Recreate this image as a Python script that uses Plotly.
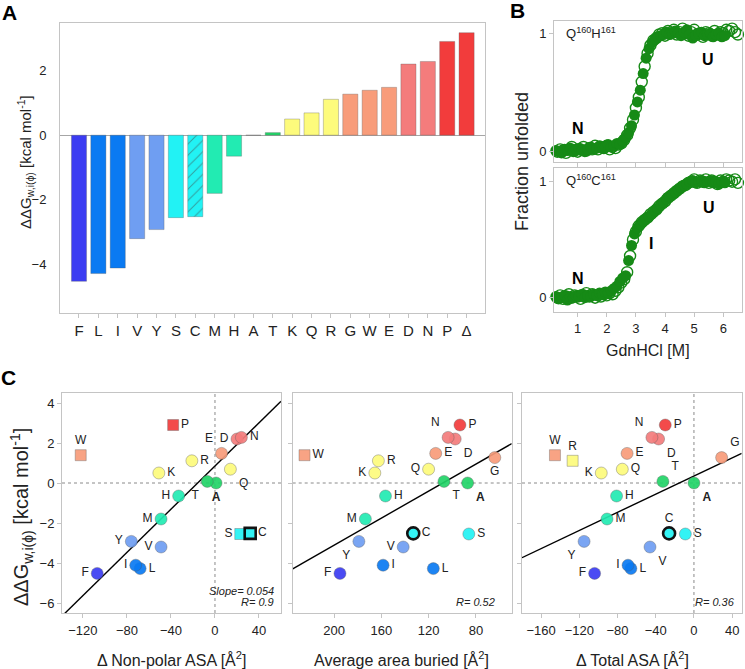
import plotly.graph_objects as go

FONT = "Liberation Sans, Arial, sans-serif"
W, H = 745, 669

# ---------------- data: panel A ----------------
residues = ["F", "L", "I", "V", "Y", "S", "C", "M", "H", "A", "T",
            "K", "Q", "R", "G", "W", "E", "D", "N", "P", "Δ"]
ddg = [-4.52, -4.28, -4.11, -3.20, -2.92, -2.55, -2.52, -1.80, -0.65, 0.0, 0.08,
       0.50, 0.69, 1.11, 1.27, 1.39, 1.48, 2.20, 2.28, 2.90, 3.17]
hatched = ["C"]

# ---------------- data: panel C ----------------
nonpolar_res = ["F", "L", "I", "V", "Y", "S", "C", "M", "H", "A", "T",
                "K", "Q", "R", "W", "E", "D", "N", "P"]
nonpolar_asa = [-107, -68, -72, -49, -76, 23, 32, -49, -33, 1, -7,
                -51, 14, -21, -122, 6, 20, 24, -38]
nonpolar_squares = ["P", "W", "S", "C"]

buried_res = ["F", "L", "I", "V", "Y", "S", "C", "M", "H", "A", "T",
              "K", "Q", "R", "G", "W", "E", "D", "N", "P"]
buried_area = [195, 116, 158.5, 141.5, 179, 86, 133, 173.5, 156.5, 87, 107,
               165.5, 120, 162.5, 64, 225, 114, 97.5, 103.5, 93.5]
buried_squares = ["W"]

total_res = ["F", "L", "I", "V", "Y", "S", "C", "M", "H", "A", "T",
             "K", "Q", "R", "G", "W", "E", "D", "N", "P"]
total_asa = [-104, -66, -69, -46, -115, -9, -26, -91, -81, 0, -32.5,
             -97, -75, -127, 29, -145.5, -70, -37, -44, -30]
total_squares = ["W", "R"]

fit_nonpolar = (0.054, 0.85)     # slope, intercept
fit_buried = (-0.0338, 3.65)
fit_total = (0.0227, 0.35)
stat_texts = [["Slope= 0.054", "R= 0.9"], ["R= 0.52"], ["R= 0.36"]]

# ---------------- data: panel B ----------------
qh_filled_x = [0.25, 0.35, 0.45, 0.55, 0.65, 0.75, 0.85, 0.95, 1.05, 1.15, 1.25, 1.35, 1.45, 1.55, 1.65,
               1.75, 1.85, 1.95, 2.05, 2.15, 2.25, 2.35, 2.45, 2.55, 2.65, 2.75, 2.85, 2.95, 3.05, 3.15,
               3.25, 3.35, 3.45, 3.55, 3.65, 3.75, 3.85, 3.95, 4.05, 4.15, 4.25, 4.35, 4.45, 4.55, 4.65,
               4.75, 4.85, 4.95, 5.05, 5.15, 5.25, 5.35, 5.45, 5.55, 5.65, 5.75, 5.85, 5.95, 6.05]
qh_filled_y = [0.01, 0.00, -0.01, 0.02, 0.01, 0.03, 0.00, 0.02, 0.03, 0.01, 0.00, 0.02, 0.04, 0.02, 0.03,
               0.05, 0.03, 0.04, 0.06, 0.04, 0.05, 0.07, 0.06, 0.09, 0.12, 0.16, 0.22, 0.31, 0.42, 0.52,
               0.66, 0.79, 0.87, 0.92, 0.95, 0.97, 0.98, 0.99, 1.01, 0.99, 1.00, 1.02, 1.00, 0.98, 1.01,
               1.03, 0.99, 0.96, 0.98, 1.00, 1.01, 0.98, 0.99, 1.00, 0.97, 0.99, 1.00, 0.97, 0.98]
qh_open_x = [0.3, 0.4, 0.5, 0.6, 0.7, 0.8, 0.9, 1.0, 1.1, 1.2, 1.3, 1.4, 1.5, 1.6, 1.7, 1.8, 1.9, 2.0,
             2.1, 2.2, 2.3, 2.4, 2.5, 2.6, 2.7, 2.8, 2.9, 3.0, 3.1, 3.2, 3.3, 3.4, 3.5, 3.6, 3.7, 3.8,
             3.9, 4.0, 4.1, 4.2, 4.3, 4.4, 4.5, 4.6, 4.7, 4.8, 4.9, 5.0, 5.1, 5.2, 5.3, 5.4, 5.5, 5.6,
             5.7, 5.8, 5.9, 6.0, 6.1, 6.2, 6.3, 6.4, 6.5]
qh_open_y = [0.00, 0.02, 0.01, -0.01, 0.02, 0.04, 0.01, 0.00, 0.02, 0.04,
             0.01, 0.03, 0.02, 0.05, 0.02, 0.04, 0.03, 0.05, 0.02, 0.04,
             0.03, 0.06, 0.07, 0.10, 0.14, 0.20, 0.27, 0.37, 0.46, 0.59,
             0.72, 0.83, 0.90, 0.94, 0.96, 0.99, 1.00, 0.98, 1.02, 1.00,
             1.03, 0.99, 1.01, 1.04, 1.00, 0.98, 1.01, 1.03, 0.99, 1.00,
             0.97, 1.01, 1.00, 0.98, 1.02, 0.99, 1.01, 1.00, 1.03, 1.02,
             1.04, 1.01, 0.99]
qc_filled_x = qh_filled_x
qc_filled_y = [0.01, -0.01, 0.00, 0.02, -0.02, 0.01, 0.00, 0.02, 0.01, 0.03,
               0.00, 0.02, 0.01, 0.03, 0.02, 0.04, 0.03, 0.05, 0.04, 0.06,
               0.08, 0.10, 0.14, 0.17, 0.19, 0.32, 0.45, 0.55, 0.60, 0.63,
               0.66, 0.68, 0.70, 0.72, 0.75, 0.77, 0.80, 0.82, 0.85, 0.87,
               0.89, 0.91, 0.93, 0.95, 0.97, 0.98, 1.00, 1.01, 0.99, 1.00,
               1.01, 0.99, 1.00, 1.01, 0.99, 1.00, 0.98, 1.00, 0.99]
qc_open_x = qh_open_x
qc_open_y = [0.00, 0.02, -0.01, 0.01, 0.03, 0.00, 0.02, 0.01, -0.01, 0.02,
             0.04, 0.01, 0.03, 0.00, 0.02, 0.01, 0.03, 0.02, 0.04, 0.03,
             0.06, 0.09, 0.13, 0.16, 0.22, 0.36, 0.50, 0.57, 0.62, 0.65,
             0.67, 0.69, 0.72, 0.74, 0.76, 0.79, 0.81, 0.83, 0.86, 0.88,
             0.90, 0.92, 0.94, 0.96, 0.97, 0.99, 1.00, 1.02, 0.99, 1.01,
             1.00, 1.02, 0.99, 1.01, 1.00, 0.98, 1.01, 1.00, 1.02, 1.01,
             1.00, 1.02, 0.99]

# ---------------- style ----------------
res_color = {
    "F": "#3b3cf2", "L": "#0a7af2", "I": "#0a7af2", "V": "#6f9ef2", "Y": "#6f9ef2",
    "S": "#22f2f4", "C": "#22f2f4", "M": "#22ebb2", "H": "#22ebb2", "A": "#22d468",
    "T": "#22d468", "K": "#fdfb7c", "Q": "#fdfb7c", "R": "#fdfb7c", "G": "#f89c7a",
    "W": "#f89c7a", "E": "#f89c7a", "D": "#f47c7c", "N": "#f47c7c", "P": "#f23c3c",
    "Δ": "#f23c3c",
}
GREEN = "#168a16"
FRAME = "#c4c4c4"
TXT = "#222222"
ddg_of = dict(zip(residues, ddg))


def px_x(p):
    return p / W


def px_y(p):
    return 1 - p / H


fig = go.Figure()

# ---- panel A bars ----
fig.add_trace(go.Bar(
    x=residues, y=ddg, xaxis="x", yaxis="y", width=0.78,
    marker=dict(
        color=[res_color[r] for r in residues],
        line=dict(color="rgba(90,90,90,0.45)", width=0.7),
        pattern=dict(shape=["/" if r in hatched else "" for r in residues],
                     fgcolor="#1a9fb0", size=8, solidity=0.12),
    ),
    showlegend=False,
))

# ---- panel B curves ----
for xa, ya, fx, fy, ox, oy in [("x2", "y2", qh_filled_x, qh_filled_y, qh_open_x, qh_open_y),
                               ("x3", "y3", qc_filled_x, qc_filled_y, qc_open_x, qc_open_y)]:
    fig.add_trace(go.Scatter(x=ox, y=oy, xaxis=xa, yaxis=ya, mode="markers", cliponaxis=False,
                             marker=dict(symbol="circle-open", size=11, color=GREEN,
                                         line=dict(width=1.4, color=GREEN)),
                             showlegend=False))
    fig.add_trace(go.Scatter(x=fx, y=fy, xaxis=xa, yaxis=ya, mode="markers", cliponaxis=False,
                             marker=dict(symbol="circle", size=11, color=GREEN),
                             showlegend=False))

# ---- panel C scatter ----
x_ranges = {"x4": [-139, 60], "x5": [235, 49.7], "x6": [-180, 50]}
pos_nonpolar = {"P": "middle right", "W": "top center", "D": "middle left", "N": "middle right",
                "E": "top left", "R": "middle right", "K": "middle right", "Q": "bottom right",
                "T": "bottom left", "A": "bottom center", "H": "middle left", "M": "middle left",
                "Y": "middle left", "V": "middle left", "I": "middle left", "L": "middle right",
                "F": "middle left", "S": "middle left", "C": "middle right"}
pos_buried = {"W": "middle right", "R": "middle right", "K": "middle left", "H": "middle right",
              "M": "middle left", "Y": "bottom left", "F": "middle left", "I": "middle right",
              "V": "middle left", "C": "middle right", "L": "middle right", "S": "middle right",
              "Q": "middle left", "T": "bottom right", "A": "bottom right", "E": "middle right",
              "N": "top left", "D": "bottom right", "P": "middle right", "G": "bottom center"}
pos_total = {"W": "top center", "R": "top center", "K": "middle left", "Q": "middle right",
             "E": "middle right", "N": "top left", "D": "bottom right", "P": "middle right",
             "T": "top right", "A": "bottom right", "G": "top right", "H": "middle right",
             "M": "middle right", "C": "top center", "S": "middle right", "Y": "bottom left",
             "V": "bottom right", "I": "middle left", "L": "middle right", "F": "middle left"}

for xa, ya, rlist, xs, squares, pos, fit in [
        ("x4", "y4", nonpolar_res, nonpolar_asa, nonpolar_squares, pos_nonpolar, fit_nonpolar),
        ("x5", "y5", buried_res, buried_area, buried_squares, pos_buried, fit_buried),
        ("x6", "y6", total_res, total_asa, total_squares, pos_total, fit_total)]:
    lo, hi = x_ranges[xa]
    slope, icpt = fit
    fig.add_trace(go.Scatter(x=[lo, hi], y=[slope * lo + icpt, slope * hi + icpt],
                             xaxis=xa, yaxis=ya, mode="lines",
                             line=dict(color="black", width=1.4), showlegend=False))
    fig.add_trace(go.Scatter(
        x=xs, y=[ddg_of[r] for r in rlist], xaxis=xa, yaxis=ya,
        mode="markers+text", cliponaxis=False,
        text=["<b>A</b>" if r == "A" else r for r in rlist],
        textposition=[pos[r] for r in rlist],
        textfont=dict(family=FONT, size=12, color=TXT),
        marker=dict(
            symbol=["square" if r in squares else "circle" for r in rlist],
            size=[11 if r in squares else 12 for r in rlist],
            color=[res_color[r] for r in rlist], opacity=0.92,
            line=dict(color=["#000000" if r == "C" else "rgba(90,90,90,0.5)" for r in rlist],
                      width=[2.6 if r == "C" else 0.8 for r in rlist]),
        ),
        showlegend=False))

# ---------------- axes ----------------
common = dict(showline=True, mirror=True, linecolor=FRAME, linewidth=1, showgrid=False,
              zeroline=False, ticks="outside", tickcolor=FRAME, ticklen=4,
              tickfont=dict(family=FONT, size=13, color=TXT))

layout = dict(
    width=W, height=H, margin=dict(l=0, r=0, t=0, b=0),
    paper_bgcolor="white", plot_bgcolor="white",
    font=dict(family=FONT, color=TXT), bargap=0.2,
    xaxis=dict(common, domain=[px_x(60), px_x(485)], anchor="y", type="category",
               range=[-0.98, 20.95], tickfont=dict(family=FONT, size=15, color=TXT)),
    yaxis=dict(common, domain=[px_y(313), px_y(23)], anchor="x", range=[-5.5, 3.47],
               tickvals=[-4, -2, 0, 2], ticks="", ticklabelstandoff=10,
               zeroline=True, zerolinecolor="#a6a6a6", zerolinewidth=1),
    xaxis2=dict(common, domain=[px_x(554), px_x(742)], anchor="y2", range=[0.19, 6.64],
                tickvals=[1, 2, 3, 4, 5, 6], showticklabels=False),
    yaxis2=dict(common, domain=[px_y(162), px_y(21)], anchor="x2", range=[-0.087, 1.104],
                tickvals=[0, 1]),
    xaxis3=dict(common, domain=[px_x(554), px_x(742)], anchor="y3", range=[0.19, 6.64],
                tickvals=[1, 2, 3, 4, 5, 6]),
    yaxis3=dict(common, domain=[px_y(312), px_y(168)], anchor="x3", range=[-0.123, 1.118],
                tickvals=[0, 1]),
    xaxis4=dict(common, domain=[px_x(62), px_x(281)], anchor="y4", range=x_ranges["x4"],
                tickvals=[-120, -80, -40, 0, 40], ticklabelstandoff=1),
    xaxis5=dict(common, domain=[px_x(292.7), px_x(511.7)], anchor="y5", range=x_ranges["x5"],
                tickvals=[200, 160, 120, 80], ticklabelstandoff=1),
    xaxis6=dict(common, domain=[px_x(522), px_x(741.7)], anchor="y6", range=x_ranges["x6"],
                tickvals=[-160, -120, -80, -40, 0, 40], ticklabelstandoff=1),
)
cy = dict(common, domain=[px_y(613), px_y(393)], range=[-6.5, 4.5],
          tickvals=[-6, -4, -2, 0, 2, 4])
layout["yaxis4"] = dict(cy, anchor="x4")
layout["yaxis5"] = dict(cy, anchor="x5", showticklabels=False)
layout["yaxis6"] = dict(cy, anchor="x6", showticklabels=False)

# dotted reference lines
dot = dict(color="#8a8a8a", width=1, dash="dot")
shapes = []
for n in (4, 5, 6):
    shapes.append(dict(type="line", xref=f"x{n} domain", yref=f"y{n}", x0=0, x1=1, y0=0, y1=0,
                       line=dot, layer="below"))
for n in (4, 6):
    shapes.append(dict(type="line", xref=f"x{n}", yref=f"y{n} domain", x0=0, x1=0, y0=0, y1=1,
                       line=dot, layer="below"))
layout["shapes"] = shapes

ytitle = "ΔΔG<sub>w,i(ϕ)</sub> [kcal mol<sup>-1</sup>]"
ann = []


def paper_text(text, x, y, size, angle=0, bold=False, xanchor="center", yanchor="middle"):
    ann.append(dict(text=f"<b>{text}</b>" if bold else text, x=px_x(x), y=px_y(y),
                    xref="paper", yref="paper", showarrow=False, textangle=angle,
                    xanchor=xanchor, yanchor=yanchor,
                    font=dict(family=FONT, size=size, color="black" if bold else TXT)))


paper_text("A", 9, 12, 21, bold=True)
paper_text("B", 517, 11, 21, bold=True)
paper_text("C", 8, 377, 21, bold=True)
paper_text(ytitle, 25, 162, 15, angle=-90)
paper_text("Fraction unfolded", 522, 162, 18, angle=-90)
paper_text("GdnHCl [M]", 648, 350, 16)
paper_text(ytitle, 21, 517, 20, angle=-90)
paper_text("Δ Non-polar ASA [Å<sup>2</sup>]", 171.5, 659, 16)
paper_text("Average area buried [Å<sup>2</sup>]", 402, 659, 16)
paper_text("Δ Total ASA [Å<sup>2</sup>]", 632, 659, 16)

# panel B in-plot text
for xa, ya, label in [("x2", "y2", "Q<sup>160</sup>H<sup>161</sup>"),
                      ("x3", "y3", "Q<sup>160</sup>C<sup>161</sup>")]:
    ann.append(dict(text=label, xref=f"{xa} domain", yref=f"{ya} domain", x=0.055, y=0.915,
                    xanchor="left", yanchor="middle", showarrow=False,
                    font=dict(family=FONT, size=13, color=TXT)))
for xa, ya, t, x, y in [("x2", "y2", "N", 1.02, 0.2), ("x2", "y2", "U", 5.47, 0.775),
                        ("x3", "y3", "N", 1.02, 0.17), ("x3", "y3", "I", 3.52, 0.47),
                        ("x3", "y3", "U", 5.5, 0.78)]:
    ann.append(dict(text=f"<b>{t}</b>", xref=xa, yref=ya, x=x, y=y, showarrow=False,
                    font=dict(family=FONT, size=16, color="black")))

# panel C statistics
for xa, ya, lines, xr in [("x4", "y4", stat_texts[0], 0.975), ("x5", "y5", stat_texts[1], 0.935),
                          ("x6", "y6", stat_texts[2], 0.98)]:
    ys = [0.101, 0.051] if len(lines) == 2 else [0.051]
    for t, yy in zip(lines, ys):
        ann.append(dict(text=f"<i>{t}</i>", xref=f"{xa} domain", yref=f"{ya} domain",
                        x=xr, y=yy, xanchor="right", yanchor="middle", showarrow=False,
                        font=dict(family=FONT, size=11, color=TXT)))

layout["annotations"] = ann
fig.update_layout(**layout)
fig.write_html("out.html", config={"displayModeBar": False},
               post_script="document.body.style.margin='0';document.body.style.padding='0';"
                           "document.body.style.overflow='hidden';")
